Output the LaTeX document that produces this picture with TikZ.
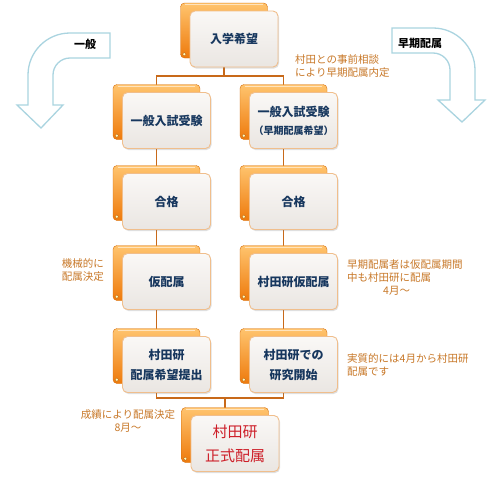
\documentclass[tikz,border=0pt]{standalone}
\usepackage{fontspec}
\setmainfont{Noto Sans CJK JP}
\usetikzlibrary{shadows,calc}
\definecolor{navy}{RGB}{23,55,94}
\definecolor{anno}{RGB}{200,120,40}
\definecolor{conn}{RGB}{200,105,25}
\definecolor{arrowblue}{RGB}{170,212,224}
\definecolor{oLight}{RGB}{255,196,110}
\definecolor{oDark}{RGB}{238,122,12}
\definecolor{fTop}{RGB}{250,248,246}
\definecolor{fBot}{RGB}{234,230,226}
\definecolor{fBorder}{RGB}{240,190,140}
\definecolor{redtext}{RGB}{205,30,40}
\pgfdeclarelayer{background}
\pgfsetlayers{background,main}
\newcommand\flowbox[5]{%
  \node[backbox] (b#1) at (#2,#3) {};
  \draw[white,opacity=0.55,line width=0.8pt] ($(b#1.north west)+(5,-2)$) -- ($(b#1.north east)+(-5,-2)$);
  \fill[fill=yellow!25!white, draw=oDark!80!black, line width=0.4pt] ($(b#1.south west)+(4,4)$) circle (1.8);
  \node[frontbox,#4] (f#1) at ($(b#1)+(10,-8.5)$) {#5};
}
\begin{document}
\begin{tikzpicture}[x=1pt,y=1pt,
  backbox/.style={rectangle, rounded corners=4pt, minimum width=87pt, minimum height=55pt, top color=oLight, bottom color=oDark, draw=oDark!90!black, line width=0.4pt, inner sep=0pt},
  frontbox/.style={rectangle, rounded corners=5pt, minimum width=88pt, minimum height=56pt, top color=fTop, bottom color=fBot, draw=fBorder, line width=0.9pt, drop shadow={opacity=0.25, shadow xshift=1pt, shadow yshift=-1.5pt}, align=center, text=navy, font=\fontsize{12}{20}\selectfont\bfseries, inner sep=0pt},
  note/.style={text=anno, font=\fontsize{10.5}{13}\selectfont, inner sep=0pt},
  conline/.style={draw=conn, line width=1.1pt},
  bigarrow/.style={draw=arrowblue, fill=white, line width=1.3pt, line join=miter},
  arrowlabel/.style={font=\fontsize{11}{12}\selectfont\bfseries, inner sep=0pt}]
\useasboundingbox (0,0) rectangle (500,-479);

% big arrows
\draw[bigarrow] (110,-33) -- (70,-33) arc[start angle=90, end angle=180, radius=42] -- (28,-105) -- (17,-105) -- (41,-128) -- (63,-105) -- (53,-105) -- (53,-75) arc[start angle=180, end angle=90, radius=17] -- (110,-58) -- cycle;
\draw[bigarrow] (392,-28) -- (433,-28) arc[start angle=90, end angle=0, radius=42] -- (475,-100) -- (485,-100) -- (462,-122) -- (438,-100) -- (450,-100) -- (450,-70) arc[start angle=0, end angle=90, radius=17] -- (392,-53) -- cycle;
\node[arrowlabel] (lgen) at (85,-44) {一般};
\node[arrowlabel] (lear) at (420,-43) {早期配属};

% boxes
\flowbox{A}{224}{-30.5}{}{入学希望}
\flowbox{L2}{156.5}{-112}{}{一般入試受験}
\flowbox{R2}{283.5}{-112}{}{一般入試受験\\[-2pt]\fontsize{10}{14}\selectfont （早期配属希望）}
\flowbox{L3}{156.5}{-193}{}{合格}
\flowbox{R3}{283.5}{-193}{}{合格}
\flowbox{L4}{156.5}{-273}{}{仮配属}
\flowbox{R4}{283.5}{-273}{}{村田研仮配属}
\flowbox{L5}{156.5}{-356}{}{村田研\\配属希望提出}
\flowbox{R5}{283.5}{-356}{}{村田研での\\研究開始}
\flowbox{F}{225}{-435}{text=redtext, font=\fontsize{15}{24}\selectfont}{村田研\\正式配属}

% notes
\node[note, anchor=west, align=left] (n1) at (295,-66.5) {村田との事前相談\\により早期配属内定};
\node[note, anchor=east, align=left] (n2) at (104,-270) {機械的に\\配属決定};
\node[note, anchor=west, align=left] (n3) at (347,-277.5) {早期配属者は仮配属期間\\中も村田研に配属\\\hspace*{36pt}4月～};
\node[note, anchor=west, align=left] (n4) at (347,-364.5) {実質的には4月から村田研\\配属です};
\node[note, align=center] (n5) at (128,-421.5) {成績により配属決定\\8月～};

% connectors
\begin{pgfonlayer}{background}
\fill[white] (0,0) rectangle (500,-479);
\coordinate (j1) at (0,-76);
\coordinate (j2) at (0,-398);
\draw[conline] (bA.center) -- (bA.center |- j1) -| (bL2.center);
\draw[conline] (bA.center |- j1) -| (bR2.center);
\draw[conline] (bL2.center) -- (bL3.center);
\draw[conline] (bL3.center) -- (bL4.center);
\draw[conline] (bL4.center) -- (bL5.center);
\draw[conline] (bR2.center) -- (bR3.center);
\draw[conline] (bR3.center) -- (bR4.center);
\draw[conline] (bR4.center) -- (bR5.center);
\draw[conline] (bL5.center) -- (bL5.center |- j2) -- (bR5.center |- j2) -- (bR5.center);
\draw[conline] (bF.center |- j2) -- (bF.center);
\end{pgfonlayer}
\end{tikzpicture}
\end{document}
